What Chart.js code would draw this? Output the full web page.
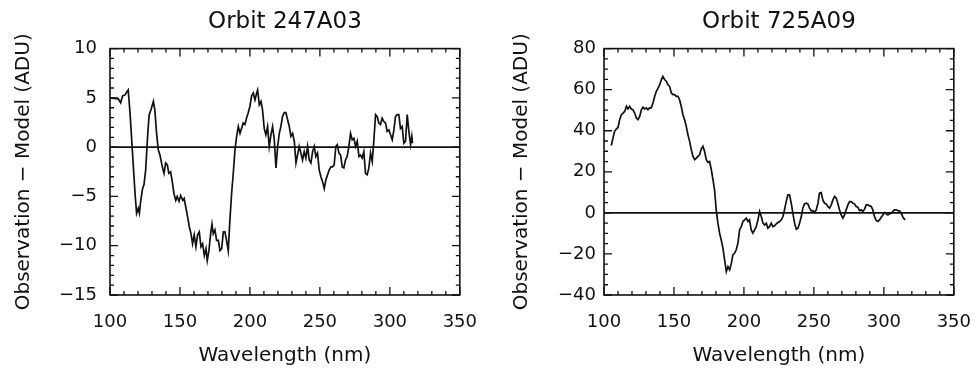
<!DOCTYPE html>
<html>
<head>
<meta charset="utf-8">
<script src="https://cdn.jsdelivr.net/npm/chart.js@4/dist/chart.umd.min.js"></script>
<style>
  html, body { margin: 0; padding: 0; background: #fff; }
  #wrap { position: relative; width: 976px; height: 372px; overflow: hidden; }
  canvas { position: absolute; top: 0; }
</style>
</head>
<body>
<div id="wrap">
  <canvas id="izq" width="494" height="372" style="left:0"></canvas>
  <canvas id="der" width="494" height="372" style="left:494px"></canvas>
</div>
<script>
// longitudes de onda (nm) y residuos (ADU)
const nm247 = [100,106,107.6,109,110.7,112,113,114.3,115.5,116.7,117.9,119,120.2,121,122,123.3,124.3,125.5,127,128,
  129.3,131,132,133.3,134.5,135.7,137.4,138.6,139.8,141,142,143.3,144.5,145.7,147,148,149.3,150.5,152,153,
  154.3,155.5,156.7,157.9,159,160.2,161.4,162.6,163.8,165,166.2,167.4,168.6,169.5,170.7,171.9,172.9,173.8,175,176.2,
  177.4,178.6,179.8,181,182.1,183.3,184.5,185.7,186.9,188.1,189.3,190.5,191.7,192.9,194,195.2,196.4,197.6,198.8,200,
  201.2,202.4,203.6,204.8,205.5,206.7,207.9,209,210.2,211.4,212.6,213.8,215,216.2,217.4,218.6,219.8,221,222.1,223.3,
  224.5,225.7,226.9,228.1,229.3,230.5,231.7,232.9,234,235.2,236.4,237.6,238.8,240,241.2,242.4,243.6,244.8,246,247.1,
  248.3,249.5,250.7,251.9,253.1,254.3,255.5,256.7,257.9,259,260.2,261.4,262.4,263.6,264.8,266,267.1,268.3,269.5,270.7,
  271.9,273.1,274.3,275.5,276.7,277.9,279,280.2,281.4,282.6,283.8,285,286.2,287.4,288.6,289.8,291,292.1,293.3,294.5,
  295.7,296.9,298.1,299.3,300.5,301.7,302.9,304,305.2,306.4,307.6,308.8,310,311.2,312.4,313.6,314.8,315.7,316.2];
const res247 = [5.0,4.9,4.5,5.2,5.3,5.6,5.8,3.5,0.75,-2.0,-4.7,-6.7,-6.2,-6.7,-5.4,-4.2,-3.8,-2.3,1.4,3.3,
  3.8,4.65,3.8,1.4,-0.3,-0.8,-2.0,-2.65,-1.6,-1.8,-2.65,-2.5,-3.5,-4.7,-5.4,-5.0,-5.5,-4.9,-5.4,-5.2,
  -6.2,-7.1,-8.1,-8.8,-9.8,-8.9,-10.1,-8.9,-8.6,-10.1,-9.8,-11.0,-10.3,-11.5,-10.5,-8.8,-7.8,-8.8,-8.4,-9.45,
  -9.45,-10.5,-10.3,-8.6,-8.6,-9.45,-10.5,-7.4,-4.7,-2.65,-0.3,1.1,2.1,1.4,1.9,2.45,2.3,2.95,3.5,4.15,
  5.2,5.5,4.8,5.5,5.8,4.3,4.65,3.8,1.9,1.25,2.1,0.07,1.25,2.1,0.75,-2.1,0.07,1.4,2.1,3.1,
  3.5,3.5,2.8,2.1,1.1,1.4,0.6,-1.6,-0.8,0.07,-0.6,-1.3,-0.45,-1.1,0.07,-1.3,-1.6,-0.45,0.07,-0.95,
  -0.6,-2.3,-3.0,-3.5,-4.2,-3.3,-2.8,-2.3,-2.0,-2.0,-1.8,0.07,0.25,-0.6,-0.8,-2.0,-2.1,-1.3,-0.95,0.07,
  1.4,0.75,0.9,0.07,0.6,-0.95,-0.8,-1.1,-0.45,-2.65,-2.8,-2.1,-0.6,-1.45,0.75,3.3,3.1,2.45,2.3,2.95,
  2.6,2.45,1.6,1.75,1.25,0.75,1.75,3.1,3.3,3.3,1.9,2.1,0.4,0.6,3.3,1.6,0.25,1.1,0.4];

const nm725 = [105.2,106.4,107.6,108.8,110,111.2,112.4,113.6,114.8,116,117.1,118.3,119.5,120.7,121.9,123.1,124.3,125.5,126.7,127.9,
  129,130.2,131.4,132.6,133.8,135,136.2,137.4,138.6,139.8,141,142.1,143.3,144.5,145.7,146.9,148.1,149.3,150.5,151.7,
  152.9,154,155.2,156.4,157.6,158.8,160,161.2,162.4,163.6,164.8,166,167.1,168.3,169.5,170.7,171.9,173.1,174.3,175.5,
  176.7,177.9,179,180.2,181.4,182.6,183.8,185,186.2,187.4,188.6,189.8,191,192.1,193.3,194.5,195.7,196.9,198.1,199.3,
  200.5,201.7,202.9,204,205.2,206.4,207.6,208.8,210,211.2,212.4,213.6,214.8,216,217.1,218.3,219.5,220.7,221.9,223.1,
  224.3,225.5,226.7,227.9,229,230.2,231.4,232.6,233.8,235,236.2,237.4,238.6,239.8,241,242.1,243.3,244.5,245.7,246.9,
  248.1,249.3,250.5,251.7,252.9,254,255.2,256.4,257.6,258.8,260,261.2,262.4,263.6,264.8,266,267.1,268.3,269.5,270.7,
  271.9,273.1,274.3,275.5,276.7,277.9,279,280.2,281.4,282.6,283.8,285,286.2,287.4,288.6,289.8,291,292.1,293.3,294.5,
  295.7,296.9,298.1,299.3,300.5,301.7,302.9,304,305.2,306.4,307.6,308.8,310,311.2,312.4,313.6,315.2];
const res725 = [32.8,36.4,39.7,40.8,41.6,45.4,47.8,48.6,49.4,51.9,50.6,51.9,50.6,50.2,48.6,46.2,45.4,47.0,50.2,51.5,
  50.6,51.1,50.2,51.1,51.1,53.5,56.7,59.2,60.8,62.4,64.9,66.5,64.9,64.1,62.4,61.6,58.4,57.6,57.6,56.7,
  56.7,55.1,51.9,47.8,45.4,42.1,38.0,34.8,30.7,27.5,25.9,26.7,27.5,28.3,31.1,32.4,29.9,25.9,24.6,25.0,
  21.0,16.1,11.2,1.5,-5.0,-9.9,-13.2,-17.2,-22.9,-28.6,-26.2,-27.8,-24.6,-20.5,-19.7,-18.0,-14.8,-8.3,-6.7,-4.2,
  -3.4,-2.6,-4.2,-3.4,-8.3,-9.9,-8.3,-6.7,-3.4,0.7,-1.8,-5.0,-5.9,-5.0,-7.5,-6.7,-5.0,-6.7,-6.3,-5.4,
  -4.7,-4.2,-3.4,-1.8,1.5,5.5,8.8,8.8,4.7,-0.2,-5.0,-8.0,-7.5,-5.0,-1.8,2.3,4.4,4.7,4.4,2.3,
  1.0,1.1,0.3,1.5,4.7,9.6,9.9,6.3,4.7,4.4,3.1,2.3,3.9,6.3,8.0,7.2,4.7,1.5,-1.0,-2.6,
  -1.0,1.5,3.9,5.5,5.5,4.7,4.4,3.1,2.8,1.1,1.5,0.7,1.8,3.9,3.9,3.4,3.1,1.5,-1.8,-3.7,
  -4.2,-3.4,-2.1,-1.0,0.2,-0.5,-1.0,-0.5,-0.2,0.7,1.5,1.5,1.1,1.0,-0.2,-2.1,-3.4];

// etiquetas de los ejes
const xTicks = [100, 150, 200, 250, 300, 350];
const yTicks247 = [-15, -10, -5, 0, 5, 10];
const yTicks725 = [-40, -20, 0, 20, 40, 60, 80];

Chart.defaults.font.family = "'DejaVu Sans', sans-serif";
Chart.defaults.color = "#111";

// marco con marcas hacia dentro en los cuatro lados + linea del cero
const marco = {
  id: "marco",
  afterDatasetsDraw(chart, args, opts) {
    const { ctx, chartArea: a, scales: { x, y } } = chart;
    ctx.save();
    ctx.strokeStyle = "#111";
    ctx.lineWidth = 1.6;
    const y0 = y.getPixelForValue(0);
    ctx.beginPath();
    ctx.moveTo(a.left, y0);
    ctx.lineTo(a.right, y0);
    ctx.stroke();
    ctx.strokeRect(a.left, a.top, a.right - a.left, a.bottom - a.top);

    ctx.lineWidth = 1.3;
    ctx.beginPath();
    const nx = Math.round((x.max - x.min) / opts.xMenor);
    for (let i = 0; i <= nx; i++) {
      const v = x.min + i * opts.xMenor;
      const px = x.getPixelForValue(v);
      const len = (i % (opts.xMayor / opts.xMenor) === 0) ? 8 : 4;
      ctx.moveTo(px, a.bottom); ctx.lineTo(px, a.bottom - len);
      ctx.moveTo(px, a.top); ctx.lineTo(px, a.top + len);
    }
    const ny = Math.round((y.max - y.min) / opts.yMenor);
    for (let i = 0; i <= ny; i++) {
      const v = y.min + i * opts.yMenor;
      const py = y.getPixelForValue(v);
      const len = (Math.round(v / opts.yMenor) % (opts.yMayor / opts.yMenor) === 0) ? 8 : 4;
      ctx.moveTo(a.left, py); ctx.lineTo(a.left + len, py);
      ctx.moveTo(a.right, py); ctx.lineTo(a.right - len, py);
    }
    ctx.stroke();
    ctx.restore();
  }
};

function conMenos(v) {
  return v < 0 ? "\u2212" + Math.abs(v) : String(v);
}

function panel(id, titulo, nm, res, yTicks, cfg) {
  const puntos = nm.map((v, i) => ({ x: v, y: res[i] }));
  return new Chart(document.getElementById(id).getContext("2d"), {
    type: "scatter",
    data: {
      datasets: [{
        data: puntos,
        showLine: true,
        borderColor: "#111",
        borderWidth: 1.7,
        pointRadius: 0,
        tension: 0
      }]
    },
    options: {
      responsive: false,
      animation: false,
      devicePixelRatio: 1,
      layout: { padding: { left: 0, right: 34, top: 0, bottom: 0 } },
      plugins: {
        legend: { display: false },
        tooltip: { enabled: false },
        title: {
          display: true,
          text: titulo,
          fullSize: false,
          color: "#111",
          font: { size: 23, weight: "normal" },
          padding: { top: 8, bottom: 13 }
        },
        marco: cfg.marcas
      },
      scales: {
        x: {
          type: "linear",
          min: 100, max: 350,
          afterBuildTicks: s => { s.ticks = xTicks.map(v => ({ value: v })); },
          afterFit: s => { s.height = 77; },
          grid: { display: false, drawTicks: false },
          border: { display: false },
          ticks: { font: { size: 18 }, color: "#111", padding: 17, maxRotation: 0 },
          title: {
            display: true,
            text: "Wavelength (nm)",
            color: "#111",
            font: { size: 20 },
            padding: { top: 0, bottom: 4 }
          }
        },
        y: {
          type: "linear",
          min: yTicks[0], max: yTicks[yTicks.length - 1],
          afterBuildTicks: s => { s.ticks = yTicks.map(v => ({ value: v })); },
          afterFit: s => { s.width = 110; },
          grid: { display: false, drawTicks: false },
          border: { display: false },
          ticks: { font: { size: 18 }, color: "#111", padding: cfg.padTick, callback: conMenos },
          title: {
            display: true,
            text: "Observation \u2212 Model (ADU)",
            color: "#111",
            font: { size: 20 },
            padding: { top: cfg.padTitulo, bottom: 0 }
          }
        }
      }
    },
    plugins: [marco]
  });
}

panel("izq", "Orbit 247A03", nm247, res247, yTicks247,
  { padTick: 13, padTitulo: 12, marcas: { xMenor: 10, xMayor: 50, yMenor: 1, yMayor: 5 } });
panel("der", "Orbit 725A09", nm725, res725, yTicks725,
  { padTick: 8, padTitulo: 16, marcas: { xMenor: 10, xMayor: 50, yMenor: 5, yMayor: 20 } });
</script>
</body>
</html>
